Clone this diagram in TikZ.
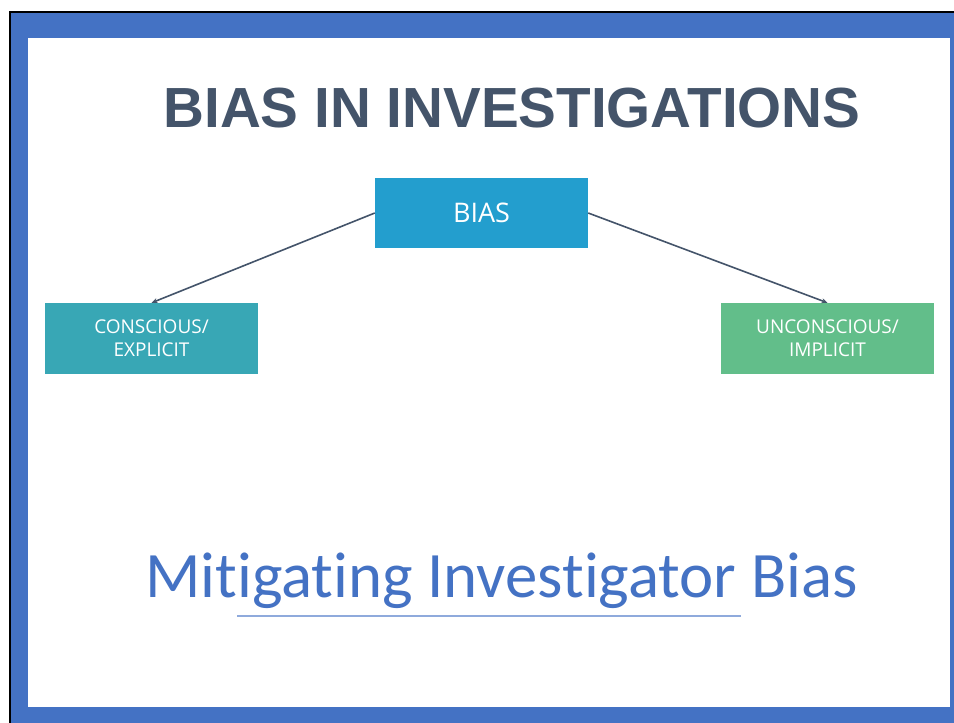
\documentclass[tikz,border=0pt]{standalone}
\usepackage{fontspec}
\usetikzlibrary{arrows.meta}
\newfontfamily\titlefont{Liberation Sans}
\newfontfamily\boxfont{Open Sans}
\newfontfamily\calfont{Carlito}[Ligatures={NoCommon}]
\definecolor{frameblue}{HTML}{4472C4}
\definecolor{slate}{HTML}{44546A}
\definecolor{biasblue}{HTML}{239ECE}
\definecolor{teal}{HTML}{38A7B5}
\definecolor{mint}{HTML}{62BE8A}
\definecolor{lineblue}{HTML}{8FAADC}
\tikzset{
  box/.style={rectangle, draw=none, text=white, minimum width=213pt, align=center, inner sep=0pt},
  conn/.style={draw=slate, line width=1.6pt, -{Stealth[length=6pt,width=5pt]}},
}
\begin{document}
\begin{tikzpicture}[x=1pt,y=-1pt]
\useasboundingbox (0,0) rectangle (954,723);
\fill[white] (0,0) rectangle (954,723);
% frame
\fill[black] (9,11) rectangle (954,723);
\fill[frameblue] (11,13) rectangle (954,723);
\fill[white] (28,38) rectangle (950,707);
% title
\node[anchor=base, text=slate, inner sep=0pt, font=\titlefont\bfseries\fontsize{56.6}{60}\selectfont] (title) at (512,127) {BIAS IN INVESTIGATIONS};
% boxes
\node[box, fill=biasblue, minimum height=70pt, font=\boxfont\fontsize{27}{30}\selectfont] (bias) at (481.5,213) {\raisebox{-2pt}{BIAS}};
\node[box, fill=teal, minimum height=71pt, font=\boxfont\fontsize{19}{23}\selectfont] (cons) at (151.5,338.5) {\raisebox{-2pt}{CONSCIOUS/}\\\raisebox{-2pt}{EXPLICIT}};
\node[box, fill=mint, minimum height=71pt, font=\boxfont\fontsize{19}{23}\selectfont] (unc) at (827.5,338.5) {\raisebox{-2pt}{UNCONSCIOUS/}\\\raisebox{-2pt}{IMPLICIT}};
\draw[conn] (bias.west) -- (cons.north);
\draw[conn] (bias.east) -- (unc.north);
% subtitle
\node[anchor=base, text=frameblue, inner sep=0pt, font=\calfont\fontsize{64.8}{70}\selectfont] (sub) at (501.5,597) {Mitigating Investigator Bias};
\coordinate (ul1) at (237,616);
\coordinate (ul2) at (741,616);
\draw[lineblue, line width=1.2pt] (ul1) -- (ul2);
\end{tikzpicture}
\end{document}
